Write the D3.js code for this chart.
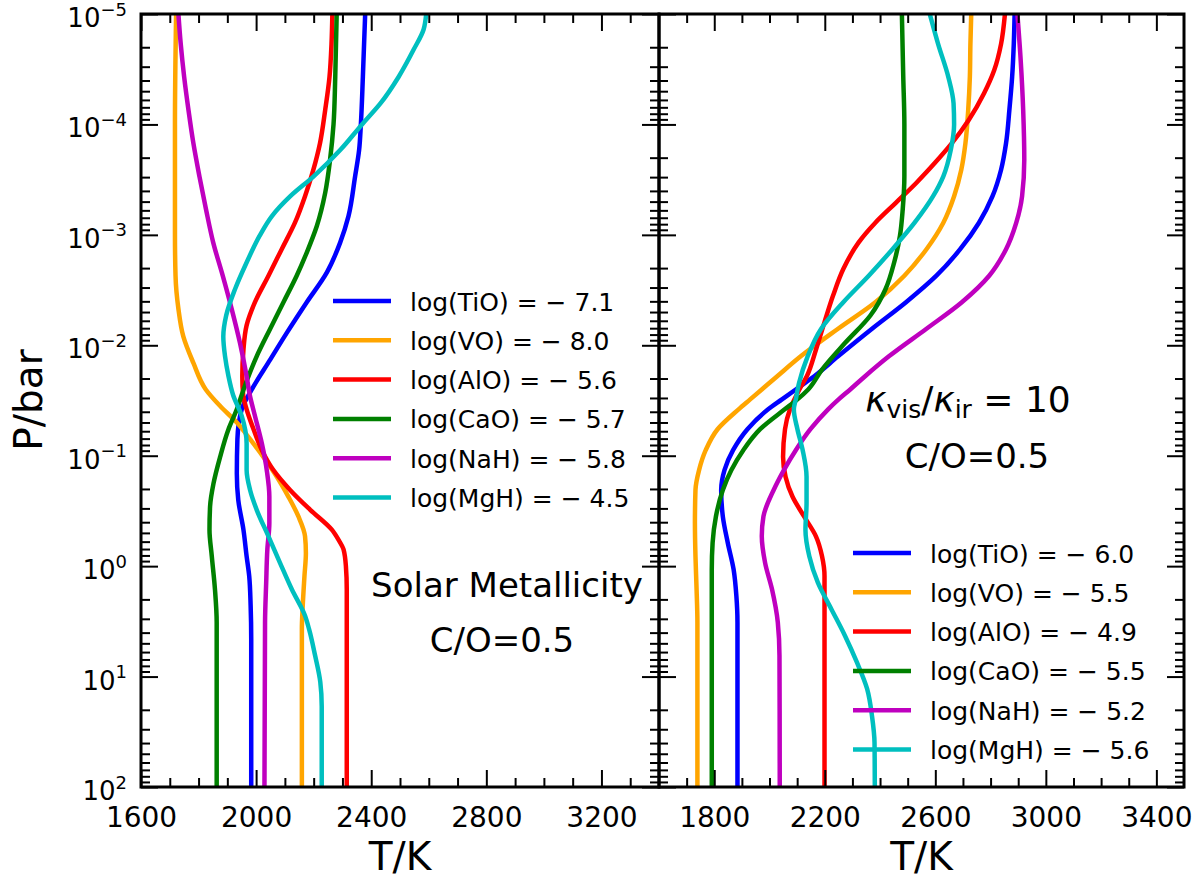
<!DOCTYPE html>
<html lang="en">
<head>
<meta charset="UTF-8" />
<script src="https://cdn.jsdelivr.net/npm/d3@7"></script>
<style>
  body { margin: 0; background: #fff; }
  svg { font-family: "DejaVu Sans", sans-serif; }
</style>
<title>P-T profiles</title>
</head>
<body>
<svg id="chart" width="1194" height="878"></svg>
<script>
// species and their log abundances
const speciesNames = ["TiO", "VO", "AlO", "CaO", "NaH", "MgH"];
const leftAbundances = [-7.1, -8.0, -5.6, -5.7, -5.8, -4.5];
const rightAbundances = [-6.0, -5.5, -4.9, -5.5, -5.2, -5.6];

const pressureTicks = [1e-5, 1e-4, 1e-3, 1e-2, 1e-1, 1, 10, 100];
const leftTempTicks = [1600, 2000, 2400, 2800, 3200];
const rightTempTicks = [1800, 2200, 2600, 3000, 3400];

// profiles as [log10(P/bar), T/K]
const leftTiO = [[-5, 2379], [-4.43, 2371], [-4.0, 2364], [-3.77, 2358], [-3.53, 2344], [-3.17, 2321],
  [-2.93, 2292], [-2.66, 2246], [-2.39, 2176], [-2.11, 2106], [-1.87, 2049], [-1.6, 1985], [-1.42, 1950],
  [-1.15, 1935], [-0.84, 1933], [-0.6, 1938], [-0.33, 1956], [-0.09, 1967], [0.09, 1976], [0.36, 1981],
  [0.66, 1983], [2, 1983]];
const leftVO = [[-5, 1722], [-4, 1718], [-3, 1718], [-2.63, 1720], [-2.33, 1730], [-2.08, 1747],
  [-1.84, 1782], [-1.6, 1825], [-1.45, 1875], [-1.3, 1933], [-1.15, 1979], [-0.99, 2025], [-0.81, 2072],
  [-0.63, 2112], [-0.45, 2147], [-0.27, 2170], [-0.12, 2173], [0.09, 2168], [0.36, 2162], [0.57, 2159],
  [2, 2159]];
const leftAlO = [[-5, 2265], [-4.73, 2262], [-4.43, 2255], [-4.13, 2240], [-3.83, 2222], [-3.59, 2199],
  [-3.35, 2170], [-3.11, 2135], [-2.87, 2089], [-2.63, 2043], [-2.39, 1996], [-2.18, 1967], [-1.96, 1956],
  [-1.72, 1952], [-1.55, 1955], [-1.42, 1967], [-1.24, 1991], [-1.05, 2020], [-0.87, 2060], [-0.69, 2118],
  [-0.51, 2188], [-0.33, 2263], [-0.24, 2286], [-0.15, 2304], [0, 2312], [0.21, 2315], [2, 2315]];
const leftCaO = [[-5, 2280], [-4.43, 2275], [-4.0, 2269], [-3.68, 2257], [-3.38, 2240], [-3.08, 2211],
  [-2.84, 2176], [-2.63, 2141], [-2.39, 2095], [-2.15, 2049], [-1.9, 2002], [-1.66, 1965], [-1.55, 1950],
  [-1.42, 1933], [-1.24, 1904], [-0.99, 1875], [-0.75, 1852], [-0.54, 1840], [-0.33, 1838], [-0.09, 1846],
  [0.21, 1857], [0.51, 1863], [2, 1863]];
const leftNaH = [[-5, 1730], [-4.73, 1738], [-4.43, 1750], [-4.13, 1765], [-3.83, 1782], [-3.53, 1803],
  [-3.23, 1826], [-2.93, 1851], [-2.63, 1884], [-2.33, 1915], [-2.02, 1944], [-1.72, 1967], [-1.55, 1978],
  [-1.36, 1996], [-1.11, 2020], [-0.87, 2037], [-0.63, 2046], [-0.39, 2046], [-0.15, 2039], [0.15, 2035],
  [0.51, 2031], [2, 2029]];
const leftMgH = [[-5, 2591], [-4.86, 2582], [-4.68, 2548], [-4.43, 2495], [-4.19, 2432], [-4.0, 2368],
  [-3.77, 2293], [-3.53, 2200], [-3.35, 2119], [-3.17, 2055], [-2.99, 2012], [-2.75, 1967], [-2.51, 1927],
  [-2.27, 1896], [-2.08, 1886], [-1.9, 1892], [-1.72, 1904], [-1.55, 1920], [-1.36, 1950], [-1.11, 1967],
  [-0.87, 1967], [-0.69, 1979], [-0.51, 2002], [-0.27, 2043], [-0.03, 2083], [0.21, 2124], [0.45, 2170],
  [0.57, 2184], [0.81, 2205], [1.05, 2223], [1.27, 2228], [2, 2228]];

const rightTiO = [[-5, 2887], [-4.73, 2884], [-4.43, 2878], [-4.13, 2868], [-3.83, 2856], [-3.59, 2838],
  [-3.35, 2807], [-3.11, 2758], [-2.87, 2690], [-2.63, 2604], [-2.39, 2494], [-2.15, 2371], [-1.9, 2248],
  [-1.72, 2162], [-1.6, 2095], [-1.51, 2045], [-1.42, 1995], [-1.24, 1920], [-1.05, 1868], [-0.87, 1837],
  [-0.69, 1825], [-0.45, 1831], [-0.21, 1849], [0.03, 1870], [0.27, 1880], [0.51, 1884], [2, 1884]];
const rightVO = [[-5, 2730], [-4.73, 2727], [-4.43, 2725], [-4.13, 2719], [-3.83, 2709], [-3.59, 2694],
  [-3.35, 2668], [-3.11, 2629], [-2.87, 2568], [-2.63, 2488], [-2.39, 2383], [-2.15, 2248], [-1.9, 2113],
  [-1.72, 2028], [-1.6, 1972], [-1.51, 1930], [-1.42, 1888], [-1.24, 1812], [-1.05, 1769], [-0.87, 1745],
  [-0.69, 1732], [-0.39, 1730], [-0.09, 1732], [0.21, 1736], [0.51, 1739], [2, 1739]];
const rightAlO = [[-5, 2852], [-4.73, 2838], [-4.49, 2813], [-4.28, 2776], [-4.04, 2721], [-3.83, 2660],
  [-3.65, 2598], [-3.47, 2531], [-3.29, 2457], [-3.11, 2383], [-2.93, 2322], [-2.69, 2267], [-2.45, 2230],
  [-2.21, 2199], [-1.96, 2168], [-1.72, 2135], [-1.6, 2108], [-1.51, 2090], [-1.42, 2074], [-1.24, 2056],
  [-0.99, 2049], [-0.81, 2058], [-0.63, 2083], [-0.45, 2125], [-0.27, 2168], [-0.09, 2190], [0.09, 2199],
  [2, 2199]];
const rightCaO = [[-5, 2479], [-4.43, 2484], [-4.0, 2488], [-3.53, 2488], [-3.23, 2482], [-2.99, 2472],
  [-2.75, 2451], [-2.51, 2420], [-2.27, 2365], [-2.02, 2273], [-1.78, 2190], [-1.6, 2140], [-1.51, 2101],
  [-1.42, 2055], [-1.24, 1966], [-1.05, 1905], [-0.87, 1862], [-0.69, 1831], [-0.45, 1806], [-0.21, 1794],
  [0.03, 1791], [2, 1791]];
const rightNaH = [[-5, 2897], [-4.58, 2909], [-4.13, 2918], [-3.68, 2922], [-3.35, 2914], [-3.11, 2893],
  [-2.87, 2856], [-2.63, 2795], [-2.39, 2696], [-2.15, 2568], [-1.9, 2432], [-1.72, 2346], [-1.6, 2292],
  [-1.51, 2250], [-1.42, 2212], [-1.24, 2148], [-1.05, 2095], [-0.87, 2052], [-0.69, 2015], [-0.45, 1978],
  [-0.27, 1972], [-0.03, 1984], [0.21, 2009], [0.51, 2030], [0.81, 2036], [2, 2037]];
const rightMgH = [[-5, 2580], [-4.73, 2610], [-4.43, 2647], [-4.19, 2666], [-4.0, 2668], [-3.77, 2656],
  [-3.53, 2629], [-3.35, 2592], [-3.11, 2525], [-2.87, 2445], [-2.63, 2359], [-2.39, 2267], [-2.15, 2187],
  [-1.9, 2138], [-1.66, 2107], [-1.51, 2095], [-1.42, 2088], [-1.24, 2101], [-1.05, 2120], [-0.81, 2134],
  [-0.57, 2134], [-0.33, 2130], [-0.09, 2144], [0.15, 2175], [0.39, 2224], [0.63, 2273], [0.87, 2316],
  [1.11, 2353], [1.36, 2371], [1.6, 2380], [2, 2381]];

const colors = ["#0000ff", "#ffa500", "#ff0000", "#008000", "#bf00bf", "#00bfbf"];

const svg = d3.select("#chart");
const plotTop = 14, plotBottom = 787;
const tickFont = 28;

var y = d3.scaleLog().domain([1e-5, 1e2]).range([plotTop, plotBottom]);

// minor ticks 2..9 x 10^k
var minorP = [];
for (let e = -5; e < 2; e++) {
  for (let m = 2; m <= 9; m++) minorP.push(m * Math.pow(10, e));
}

var panels = [
  { left: 141, right: 659, domain: [1600, 3400], majors: leftTempTicks,
    profiles: [leftTiO, leftVO, leftAlO, leftCaO, leftNaH, leftMgH],
    abund: leftAbundances, legendX: 333, legendY: 301, yLabels: true },
  { left: 659, right: 1184, domain: [1600, 3500], majors: rightTempTicks,
    profiles: [rightTiO, rightVO, rightAlO, rightCaO, rightNaH, rightMgH],
    abund: rightAbundances, legendX: 853, legendY: 553, yLabels: false }
];

function addAxis(axis, transform) {
  var a = svg.append("g").attr("transform", transform).call(axis);
  a.select(".domain").remove();
  a.selectAll("line").attr("stroke", "#000").attr("stroke-width", 2);
  a.attr("font-family", null).attr("font-size", tickFont);
  return a;
}

function supLabel(d) {
  var e = Math.round(Math.log10(d));
  return e < 0 ? "\u2212" + (-e) : String(e);
}

panels.forEach(function (p, i) {
  var x = d3.scaleLinear().domain(p.domain).range([p.left, p.right]);

  svg.append("clipPath").attr("id", "clip" + i)
    .append("rect")
    .attr("x", p.left).attr("y", plotTop)
    .attr("width", p.right - p.left).attr("height", plotBottom - plotTop);

  var line = d3.line()
    .x(function (d) { return x(d[1]); })
    .y(function (d) { return y(Math.pow(10, d[0])); })
    .curve(d3.curveMonotoneY);

  svg.append("g")
    .attr("clip-path", "url(#clip" + i + ")")
    .selectAll("path")
    .data(p.profiles)
    .join("path")
    .attr("d", line)
    .attr("fill", "none")
    .attr("stroke", function (d, j) { return colors[j]; })
    .attr("stroke-width", 4.5)
    .attr("stroke-linejoin", "round");

  var minorT = d3.range(p.domain[0] + 100, p.domain[1], 100)
    .filter(function (t) { return p.majors.indexOf(t) < 0; });

  // x axes (bottom with labels, top without)
  var bx = addAxis(d3.axisBottom(x).tickValues(p.majors).tickSize(-17).tickFormat(d3.format("d")),
    "translate(0," + plotBottom + ")");
  bx.selectAll("text").attr("y", 40).attr("dy", null).attr("fill", "#000");
  addAxis(d3.axisBottom(x).tickValues(minorT).tickSize(-9).tickFormat(""), "translate(0," + plotBottom + ")");
  addAxis(d3.axisTop(x).tickValues(p.majors).tickSize(-17).tickFormat(""), "translate(0," + plotTop + ")");
  addAxis(d3.axisTop(x).tickValues(minorT).tickSize(-9).tickFormat(""), "translate(0," + plotTop + ")");

  // y axes
  var ly = addAxis(d3.axisLeft(y).tickValues(pressureTicks).tickSize(-17).tickPadding(14)
    .tickFormat(p.yLabels ? function () { return "10"; } : ""), "translate(" + p.left + ",0)");
  if (p.yLabels) {
    ly.attr("font-size", 26);
    ly.selectAll("text")
      .attr("dy", 12.5)
      .attr("fill", "#000")
      .append("tspan")
      .attr("dy", -11.5)
      .attr("font-size", 18)
      .text(supLabel);
  }
  addAxis(d3.axisLeft(y).tickValues(minorP).tickSize(-9).tickFormat(""), "translate(" + p.left + ",0)");
  addAxis(d3.axisRight(y).tickValues(pressureTicks).tickSize(-17).tickFormat(""), "translate(" + p.right + ",0)");
  addAxis(d3.axisRight(y).tickValues(minorP).tickSize(-9).tickFormat(""), "translate(" + p.right + ",0)");

  // frame
  svg.append("rect")
    .attr("x", p.left).attr("y", plotTop)
    .attr("width", p.right - p.left).attr("height", plotBottom - plotTop)
    .attr("fill", "none").attr("stroke", "#000").attr("stroke-width", 3);

  // x label
  svg.append("text")
    .attr("x", (p.left + p.right) / 2).attr("y", 870)
    .attr("text-anchor", "middle").attr("font-size", 39)
    .text("T/K");

  // legend
  var rowH = 39.3;
  var leg = svg.append("g").attr("transform", "translate(" + p.legendX + "," + p.legendY + ")");
  var rows = leg.selectAll("g").data(speciesNames).join("g")
    .attr("transform", function (d, j) { return "translate(0," + j * rowH + ")"; });
  rows.append("line")
    .attr("x1", 0).attr("x2", 58).attr("y1", 0).attr("y2", 0)
    .attr("stroke", function (d, j) { return colors[j]; })
    .attr("stroke-width", 4.5);
  rows.append("text")
    .attr("x", 77).attr("y", 9.5)
    .attr("font-size", 25)
    .text(function (d, j) {
      var v = p.abund[j];
      return "log(" + d + ") = " + (v < 0 ? "\u2212 " : "") + Math.abs(v).toFixed(1);
    });
});

// y label
svg.append("text")
  .attr("transform", "translate(42,400) rotate(-90)")
  .attr("text-anchor", "middle").attr("font-size", 39)
  .text("P/bar");

// annotations
svg.append("text").attr("x", 507).attr("y", 597).attr("text-anchor", "middle")
  .attr("font-size", 34).text("Solar Metallicity");
svg.append("text").attr("x", 502).attr("y", 652).attr("text-anchor", "middle")
  .attr("font-size", 34).text("C/O=0.5");

var kappa = svg.append("text").attr("x", 968).attr("y", 412).attr("text-anchor", "middle")
  .attr("font-size", 36);
kappa.append("tspan").attr("font-style", "italic").text("\u03ba");
kappa.append("tspan").attr("font-size", 25).attr("dy", 6).text("vis");
kappa.append("tspan").attr("dy", -6).text("/");
kappa.append("tspan").attr("font-style", "italic").text("\u03ba");
kappa.append("tspan").attr("font-size", 25).attr("dy", 6).text("ir");
kappa.append("tspan").attr("dy", -6).text(" = 10");
svg.append("text").attr("x", 977).attr("y", 468).attr("text-anchor", "middle")
  .attr("font-size", 34).text("C/O=0.5");
</script>
</body>
</html>
